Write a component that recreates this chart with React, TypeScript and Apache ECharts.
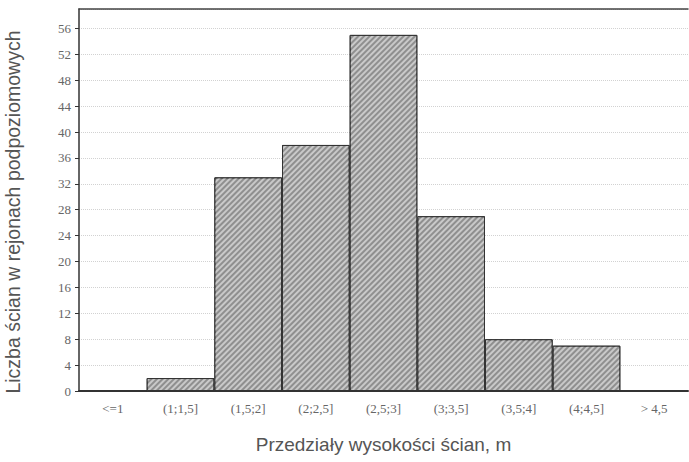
import React, { useEffect, useRef } from "react";
import * as echarts from "echarts";

const categories = ["<=1", "(1;1,5]", "(1,5;2]", "(2;2,5]", "(2,5;3]", "(3;3,5]", "(3,5;4]", "(4;4,5]", "> 4,5"];
const counts = [0, 2, 33, 38, 55, 27, 8, 7, 0];
const yTitle = "Liczba ścian w rejonach podpoziomowych";
const xTitle = "Przedziały wysokości ścian, m";

export default function App() {
  const ref = useRef<HTMLDivElement>(null);
  useEffect(() => {
    if (!ref.current) return;
    const chart = echarts.init(ref.current, null, { renderer: "svg" });
    chart.setOption({
      animation: false,
      backgroundColor: "#ffffff",
      grid: { left: 79, right: 1, top: 9, bottom: 71, containLabel: false, outerBoundsMode: "none" },
      xAxis: [
        {
          type: "category",
          data: categories,
          name: xTitle,
          nameLocation: "middle",
          nameGap: 44,
          nameTextStyle: { fontFamily: "Liberation Sans", fontSize: 19, color: "#555" },
          axisLine: { show: true, lineStyle: { color: "#333", width: 2 } },
          axisTick: { show: false },
          axisLabel: { fontFamily: "Liberation Serif", fontSize: 13, color: "#666", margin: 11, interval: 0 },
          splitLine: { show: false },
        },
        {
          type: "category",
          data: categories,
          position: "top",
          axisLine: { show: true, lineStyle: { color: "#444", width: 1.5 } },
          axisTick: { show: false },
          axisLabel: { show: false },
          splitLine: { show: false },
        },
      ],
      yAxis: {
        type: "value",
        min: 0,
        max: 59,
        interval: 4,
        name: yTitle,
        nameLocation: "middle",
        nameGap: 56,
        nameTextStyle: { fontFamily: "Liberation Sans", fontSize: 19.5, color: "#555", padding: [0, 24, 0, 0] },
        axisLine: { show: true, lineStyle: { color: "#333", width: 1.5 } },
        axisTick: { show: true, length: 4, lineStyle: { color: "#333" } },
        axisLabel: {
          fontFamily: "Liberation Serif",
          fontSize: 13,
          color: "#666",
          margin: 8,
          showMaxLabel: false,
          formatter: (v: number) => (v % 4 === 0 ? String(v) : ""),
        },
        splitLine: { show: true, lineStyle: { color: "#d2d2d2", type: "dotted", width: 1 } },
      },
      series: [
        {
          type: "bar",
          data: counts,
          barWidth: "100%",
          barCategoryGap: 0,
          itemStyle: {
            color: "#8f8f8f",
            borderColor: "#333",
            borderWidth: 1,
            decal: {
              symbol: "rect",
              symbolSize: 1,
              dashArrayX: [1, 0],
              dashArrayY: [2, 2],
              rotation: -Math.PI / 4,
              color: "rgba(225,225,225,0.7)",
            },
          },
        },
      ],
    });
    return () => chart.dispose();
  }, []);
  return (
    <div
      ref={ref}
      style={{ position: "fixed", left: 0, top: 0, width: 689, height: 462 }}
    />
  );
}
